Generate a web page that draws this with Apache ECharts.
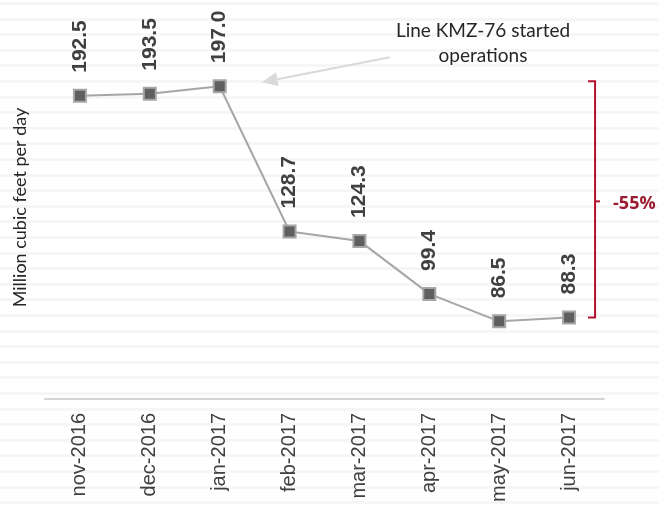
<!DOCTYPE html>
<html>
<head>
<meta charset="utf-8">
<script src="https://cdn.jsdelivr.net/npm/echarts@6/dist/echarts.min.js"></script>
<style>
  html, body { margin: 0; padding: 0; background: #fff; }
  #chart {
    width: 659px;
    height: 510px;
    /* faint striped backdrop of the original */
    background: repeating-linear-gradient(to bottom, #f6f6f6 0, #f6f6f6 3px, #fff 3px, #fff 15.6px);
    background-position: 0 2px;
  }
</style>
</head>
<body>
<div id="chart"></div>
<script>
var months = ["nov-2016", "dec-2016", "jan-2017", "feb-2017", "mar-2017", "apr-2017", "may-2017", "jun-2017"];
var volumes = [192.5, 193.5, 197.0, 128.7, 124.3, 99.4, 86.5, 88.3];
var yRange = [50, 230];
var noteText = "Line KMZ-76 started\noperations";
var changeText = "-55%";

var chart = echarts.init(document.getElementById("chart"), null, { renderer: "canvas" });

var option = {
  backgroundColor: "transparent",
  animation: false,
  grid: { left: 45, right: 55, top: 16, bottom: 111 },
  xAxis: {
    type: "category",
    data: months,
    boundaryGap: true,
    axisLine: { lineStyle: { color: "#d4d4d4", width: 2 } },
    axisTick: { length: 6, lineStyle: { color: "#d4d4d4", width: 2 } },
    axisLabel: {
      rotate: 90,
      margin: 14,
      fontSize: 20,
      color: "#404040",
      fontFamily: "Liberation Sans"
    },
    splitLine: { show: false }
  },
  yAxis: {
    type: "value",
    min: yRange[0],
    max: yRange[1],
    axisLine: { show: false },
    axisTick: { show: false },
    axisLabel: { show: false },
    splitLine: { show: false },
    name: "Million cubic feet per day",
    nameLocation: "middle",
    nameGap: 16,
    nameTextStyle: { fontSize: 18, color: "#262626", fontFamily: "Lato" }
  },
  series: [{
    type: "line",
    data: volumes,
    symbol: "rect",
    symbolSize: 12,
    lineStyle: { color: "#a6a6a6", width: 2 },
    itemStyle: { color: "#5f5f5f", borderColor: "#a6a6a6", borderWidth: 2 },
    label: {
      show: true,
      position: "top",
      rotate: 90,
      align: "left",
      verticalAlign: "middle",
      distance: 16,
      fontSize: 21,
      fontWeight: "bold",
      color: "#404040",
      fontFamily: "Liberation Sans",
      formatter: function (p) { return p.value.toFixed(1); }
    }
  }]
};
chart.setOption(option);

// annotations placed relative to the data
var peak = chart.convertToPixel({ seriesIndex: 0 }, [2, volumes[2]]);
var last = chart.convertToPixel({ seriesIndex: 0 }, [7, volumes[7]]);
var tip = [peak[0] + 42, peak[1] - 4];
var tail = [peak[0] + 170, peak[1] - 29];
var ang = Math.atan2(tail[1] - tip[1], tail[0] - tip[0]);
var headLen = 16, headW = 7;
var base = [tip[0] + headLen * Math.cos(ang), tip[1] + headLen * Math.sin(ang)];
var nx = -Math.sin(ang), ny = Math.cos(ang);

var bx = last[0] + 26;
var bTop = peak[1] - 5;
var bBot = last[1];
var bMid = (bTop + bBot) / 2 + 2;
var red = "#b3122f";

chart.setOption({
  graphic: [
    { type: "line", shape: { x1: tail[0], y1: tail[1], x2: base[0], y2: base[1] },
      style: { stroke: "#d9d9d9", lineWidth: 2 } },
    { type: "polygon", shape: { points: [tip, [base[0] + nx * headW, base[1] + ny * headW], [base[0] - nx * headW, base[1] - ny * headW]] },
      style: { fill: "#d9d9d9" } },
    { type: "text", x: 483, y: 43.5,
      style: { text: noteText, fontSize: 19, lineHeight: 25, fill: "#262626", fontFamily: "Lato",
               textAlign: "center", textVerticalAlign: "middle" } },
    { type: "polyline", shape: { points: [[bx - 7, bTop], [bx, bTop], [bx, bBot], [bx - 7, bBot]] },
      style: { stroke: red, lineWidth: 2, fill: null } },
    { type: "line", shape: { x1: bx, y1: bMid, x2: bx + 5, y2: bMid },
      style: { stroke: red, lineWidth: 2 } },
    { type: "text", x: bx + 18, y: bMid + 3,
      style: { text: changeText, fontSize: 18, fontWeight: "bold", fill: "#9b1b30", fontFamily: "Open Sans",
               textAlign: "left", textVerticalAlign: "middle" } }
  ]
});
</script>
</body>
</html>
